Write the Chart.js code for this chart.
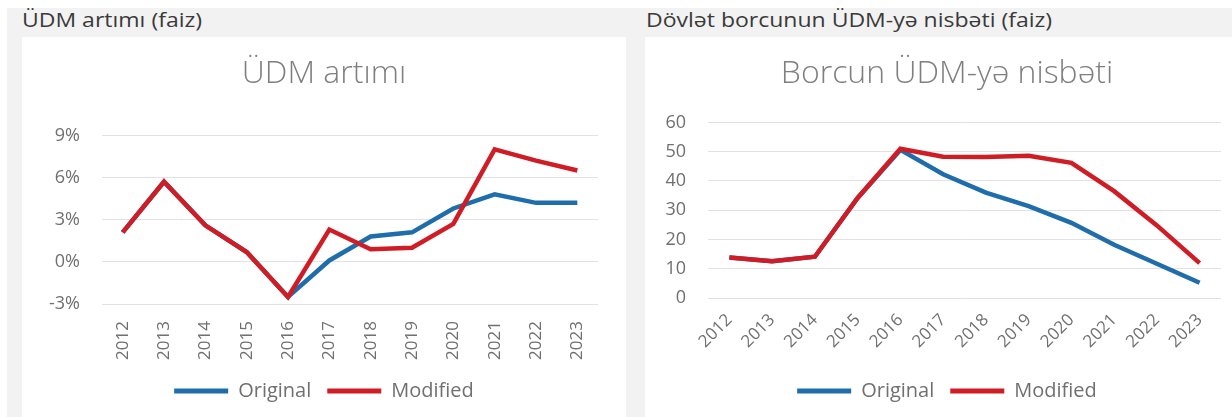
<!DOCTYPE html>
<html>
<head>
<meta charset="utf-8">
<script src="https://cdn.jsdelivr.net/npm/chart.js@4"></script>
<style>
  html, body { margin: 0; padding: 0; background: #fff; }
  body { width: 1232px; height: 417px; position: relative; overflow: hidden; font-family: "Open Sans", sans-serif; }
  .bg { position: absolute; left: 7px; top: 8px; right: 0; bottom: 0; background: #f2f2f2; }
  .head { position: absolute; top: 6px; font-size: 20px; color: #3a3a3a; white-space: nowrap;
          transform: scaleX(1.15); transform-origin: left top; }
  .panel { position: absolute; top: 37px; width: 604px; height: 380px; background: #fff; }
</style>
</head>
<body>
<div class="bg"></div>
<div class="head" style="left:22px">ÜDM artımı (faiz)</div>
<div class="head" style="left:646px">Dövlət borcunun ÜDM-yə nisbəti (faiz)</div>
<div class="panel" style="left:22px"><canvas id="growthChart"></canvas></div>
<div class="panel" style="left:645px"><canvas id="debtChart"></canvas></div>
<script>
//data
const years = ['2012','2013','2014','2015','2016','2017','2018','2019','2020','2021','2022','2023'];
const growthOriginal = [2.1, 5.7, 2.6, 0.7, -2.5, 0.1, 1.8, 2.1, 3.8, 4.8, 4.2, 4.2];
const growthModified = [2.1, 5.7, 2.6, 0.7, -2.5, 2.3, 0.9, 1.0, 2.7, 8.0, 7.2, 6.5];
const debtOriginal = [13.8, 12.6, 14.1, 34.2, 50.6, 42.3, 36.0, 31.4, 25.7, 18.2, 11.7, 5.2];
const debtModified = [13.8, 12.6, 14.1, 34.2, 51.0, 48.3, 48.2, 48.6, 46.2, 36.5, 24.8, 11.9];

const blue = '#1f6eab';
const red = '#d01c24';
const tickGrey = '#707070';
const titleGrey = '#7f7f7f';
Chart.defaults.font.family = '"Open Sans", sans-serif';
Chart.defaults.color = tickGrey;

// o: yWidth, xHeight, titleGap, xRot, xPad
function makeConfig(title, orig, mod, yOpts, o) {
  return {
    type: 'line',
    data: {
      labels: years,
      datasets: [
        { label: 'Original', data: orig, borderColor: blue, backgroundColor: blue,
          borderWidth: 4.5, pointRadius: 0, tension: 0, order: 1 },
        { label: 'Modified', data: mod, borderColor: red, backgroundColor: red,
          borderWidth: 4.5, pointRadius: 0, tension: 0, order: 0 }
      ]
    },
    options: {
      responsive: true,
      maintainAspectRatio: false,
      animation: false,
      layout: { padding: { top: 18, left: 0, right: 0, bottom: 6 } },
      plugins: {
        title: {
          display: true, text: title, color: titleGrey,
          font: { size: 32, weight: 300, lineHeight: 1.2 },
          padding: { top: 0, bottom: o.titleGap }
        },
        legend: {
          position: 'bottom',
          labels: {
            boxWidth: 54, boxHeight: 0, color: tickGrey, font: { size: 20 }, padding: 16,
            sort: (a, b) => a.datasetIndex - b.datasetIndex,
            generateLabels: (chart) => chart.data.datasets.map((ds, i) => ({
              text: ds.label, strokeStyle: ds.borderColor, fillStyle: ds.borderColor,
              lineWidth: 5, lineCap: 'round', datasetIndex: i, fontColor: tickGrey
            }))
          }
        },
        tooltip: { enabled: false }
      },
      scales: {
        x: {
          offset: true,
          grid: { display: false },
          border: { display: false },
          ticks: { font: { size: 17 }, color: tickGrey, maxRotation: o.xRot, minRotation: o.xRot, padding: o.xPad },
          afterFit: (s) => { s.height = o.xHeight; }
        },
        y: Object.assign({
          grid: { color: '#e2e2e2', lineWidth: 1, drawTicks: false },
          border: { display: false },
          afterFit: (s) => { s.width = o.yWidth; }
        }, yOpts),
        // empty right-hand axis, only keeps a margin to the right of the plot
        gap: {
          position: 'right',
          grid: { display: false },
          border: { display: false },
          ticks: { display: false },
          afterFit: (s) => { s.width = 28; }
        }
      }
    }
  };
}

new Chart(document.getElementById('growthChart'), makeConfig('ÜDM artımı', growthOriginal, growthModified, {
  min: -3, max: 9,
  ticks: { stepSize: 3, font: { size: 18 }, color: tickGrey, padding: 22, callback: v => v + '%' }
}, { yWidth: 80, xHeight: 61, titleGap: 42, xRot: 90, xPad: 9 }));

new Chart(document.getElementById('debtChart'), makeConfig('Borcun ÜDM-yə nisbəti', debtOriginal, debtModified, {
  min: 0, max: 60,
  ticks: { stepSize: 10, font: { size: 18 }, color: tickGrey, padding: 22 }
}, { yWidth: 63, xHeight: 67, titleGap: 29, xRot: 45, xPad: 4 }));
</script>
</body>
</html>
